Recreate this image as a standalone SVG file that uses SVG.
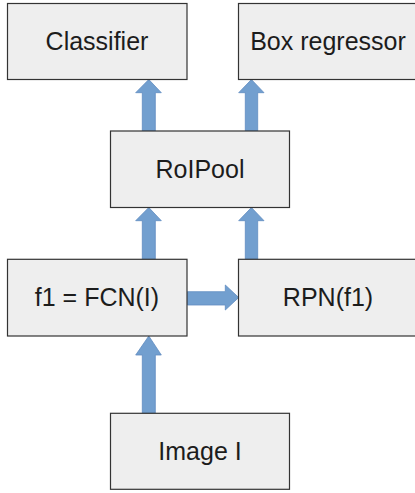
<svg xmlns="http://www.w3.org/2000/svg" width="415" height="493" viewBox="0 0 415 493">
<style>
.box{fill:#eeeeee;stroke:#333333;stroke-width:1.2}
.lbl{font-family:"Liberation Sans",Arial,sans-serif;font-size:25px;fill:#1c1c1c;text-anchor:middle}
.arr{fill:#729fcf;stroke:#5f8cc0;stroke-width:0.8}
</style>
<rect width="415" height="493" fill="#ffffff"/>
<g id="connectors">
<polygon class="arr" points="148.8,79.5 161.3,92.7 155.3,92.7 155.3,131 142.3,131 142.3,92.7 135.7,92.7"/>
<polygon class="arr" points="251.4,79.5 264,92.7 257.7,92.7 257.7,131 245.3,131 245.3,92.7 238.7,92.7"/>
<polygon class="arr" points="148.8,207.5 161.3,220.7 155.3,220.7 155.3,259.3 142.3,259.3 142.3,220.7 135.7,220.7"/>
<polygon class="arr" points="251.4,207.5 264,220.7 257.7,220.7 257.7,259.3 245.3,259.3 245.3,220.7 238.7,220.7"/>
<polygon class="arr" points="148.8,336 161.3,355 155.3,355 155.3,413.3 142.3,413.3 142.3,355 135.7,355"/>
<polygon class="arr" points="238.7,297.5 225.3,310 225.3,305 187.3,305 187.3,291.7 225.3,291.7 225.3,285"/>
</g>
<g id="classifier">
<rect class="box" x="7.5" y="3.5" width="179.5" height="76"/>
<text class="lbl" x="97" y="50">Classifier</text>
</g>
<g id="box-regressor">
<rect class="box" x="238.5" y="3.5" width="179.5" height="76"/>
<text class="lbl" x="328" y="50">Box regressor</text>
</g>
<g id="roipool">
<rect class="box" x="110.5" y="131" width="179" height="76.5"/>
<text class="lbl" x="200" y="177.5">RoIPool</text>
</g>
<g id="fcn">
<rect class="box" x="7.5" y="259.3" width="179.5" height="76.7"/>
<text class="lbl" x="97" y="306.3">f1 = FCN(I)</text>
</g>
<g id="rpn">
<rect class="box" x="238.5" y="259.3" width="179.5" height="76.7"/>
<text class="lbl" x="328" y="306.3">RPN(f1)</text>
</g>
<g id="image">
<rect class="box" x="110.5" y="413.3" width="179" height="76"/>
<text class="lbl" x="200" y="460">Image I</text>
</g>
</svg>
